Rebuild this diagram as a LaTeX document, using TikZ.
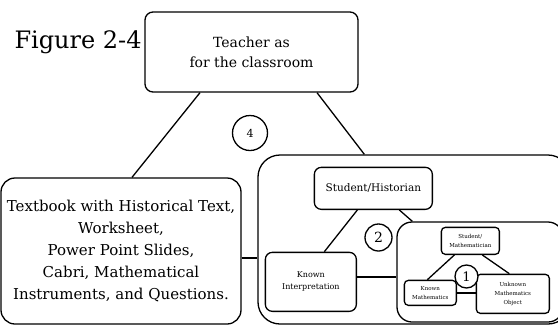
\documentclass[tikz,border=0pt]{standalone}
\usepackage{fontspec}
\setmainfont{DejaVu Serif}
\usetikzlibrary{positioning,calc}

\begin{document}
\begin{tikzpicture}[
  x=1pt, y=-1pt,
  box/.style={draw, line width=1.3pt, rounded corners=#1, align=center, inner sep=0pt},
  box/.default=8pt,
  num/.style={draw, circle, line width=1.3pt, fill=white, inner sep=0pt, minimum size=#1},
  link/.style={line width=1.3pt},
  tiny/.style={font=\fontsize{5.5}{9}\selectfont}
]
\clip (0,0) rectangle (558,325);

\node[anchor=base west, font=\fontsize{24}{28}\selectfont] (figlabel) at (11,48) {Figure 2-4};

\node[box, minimum width=213, minimum height=80, font=\fontsize{14}{20}\selectfont] (teacher) at (251.5,52) {Teacher as\\for the classroom};
\node[box=14pt, minimum width=240, minimum height=146, font=\fontsize{15}{22}\selectfont] (textbook) at (121,251) {Textbook with Historical Text,\\Worksheet,\\Power Point Slides,\\Cabri, Mathematical\\Instruments, and Questions.};

% student / historian level
\node[box=22pt, minimum width=312, minimum height=169] (scene) at (414,239.5) {};
\node[box=7pt, minimum width=118, minimum height=42, font=\fontsize{10.5}{13}\selectfont] (historian) at ($(scene.north west)+(116,34)$) {Student/Historian};
\node[box=7pt, minimum width=91, minimum height=59, font=\fontsize{8}{12}\selectfont] (interp) at ($(scene.north west)+(53.5,127.5)$) {Known\\Interpretation};

% student / mathematician level
\node[box=15pt, minimum width=166, minimum height=100] (inner) at (480,272) {};
\node[box=4pt, minimum width=58, minimum height=27, tiny] (stumath) at ($(inner.north west)+(74,19.5)$) {Student/\\Mathematician};
\node[box=4pt, minimum width=52, minimum height=25, tiny] (knownmath) at ($(inner.north west)+(34,71.5)$) {Known\\Mathematics};
\node[box=4pt, minimum width=73, minimum height=39, tiny] (unknown) at ($(inner.north west)+(116.5,72.5)$) {Unknown\\Mathematics\\Object};

\draw[link] ($(teacher.south)+(-51.5,0)$) -- ($(textbook.north)+(11,0)$);
\draw[link] ($(teacher.south)+(65.5,0)$) -- ($(scene.north west)+(107,0)$);
\draw[link] ($(textbook.east)+(0,7)$) coordinate (tbout) -- (tbout -| scene.west);

\draw[link] ($(historian.south)+(-16,0)$) -- ($(interp.north)+(13.5,0)$);
\draw[link] ($(historian.south)+(26,0)$) -- ($(inner.north west)+(16,0)$);
\draw[link] ($(interp.east)+(0,-5)$) coordinate (kiout) -- (kiout -| inner.west);

\draw[link] ($(stumath.south)+(-16,0)$) -- ($(knownmath.north)+(-3,0)$);
\draw[link] ($(stumath.south)+(12,0)$) -- ($(unknown.north)+(-3.5,0)$);
\draw[link] (knownmath.east) -- (knownmath.east -| unknown.west);

\node[num=35, font=\fontsize{11}{11}\selectfont] (four) at (250,133) {4};
\node[num=27, font=\fontsize{14}{14}\selectfont] (two) at (378.5,237.5) {2};
\node[num=23, font=\fontsize{13}{13}\selectfont] (one) at (466.5,276.5) {1};
\end{tikzpicture}
\end{document}
